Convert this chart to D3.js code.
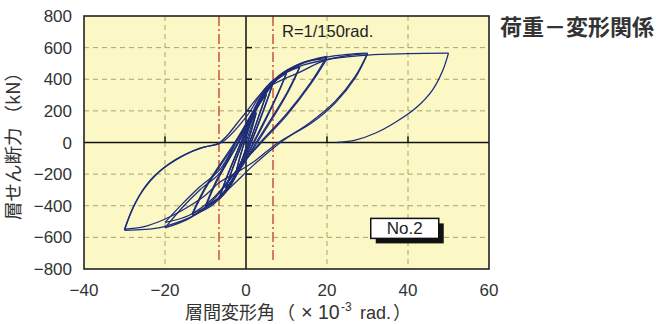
<!DOCTYPE html>
<html>
<head>
<meta charset="utf-8">
<script src="https://cdn.jsdelivr.net/npm/d3@7"></script>
<style>
  body { margin: 0; background: #fff; }
</style>
</head>
<body>
<div id="chart"></div>
<script>
const xTicks = [-40, -20, 0, 20, 40, 60];
const yTicks = [-800, -600, -400, -200, 0, 200, 400, 600, 800];
const gridX = [-20, 20, 40];
const gridY = [-600, -400, -200, 200, 400, 600];
const limitDrift = [-6.67, 6.67];   // R = 1/150 rad.

// hysteresis branches, [drift (x10^-3 rad), shear (kN)], peak to peak
const cyc25 = [
  [[0, 0], [1, 80], [2.5, 185]],
  [[2.5, 185], [1.5, 90], [0.4, 0], [-1, -110], [-2.5, -195]],
  [[-2.5, -195], [-1.5, -95], [-0.4, 0], [1, 110], [2.5, 190]],
  [[2.5, 190], [1.5, 95], [0.4, 0], [-1, -110], [-2.5, -192]],
  [[-2.5, -192], [-1.5, -90], [-0.4, 0], [1.5, 150], [3.5, 260], [5, 300]]
];
const cyc50 = [
  [[5, 300], [3.5, 190], [0.8, 0], [-1.5, -140], [-3.5, -240], [-5, -290]],
  [[-5, -290], [-3.5, -180], [-0.8, 0], [1.5, 150], [3.5, 250], [5, 305]],
  [[5, 305], [3.5, 195], [0.9, 0], [-1.5, -140], [-3.5, -240], [-5, -288]],
  [[-5, -288], [-3.5, -175], [-0.9, 0], [1.5, 160], [4, 290], [6.67, 375]]
];
const cyc67 = [
  [[6.67, 375], [4.8, 240], [1.2, 0], [-2, -190], [-4.5, -300], [-6.67, -360]],
  [[-6.67, -360], [-4.8, -225], [-1.2, 0], [2, 200], [4.5, 320], [6.67, 378]],
  [[6.67, 378], [4.8, 235], [1.3, 0], [-2, -185], [-4.5, -295], [-6.67, -355]],
  [[-6.67, -355], [-4.8, -220], [-1.3, 0], [2, 210], [5, 350], [7.5, 410], [10, 440]]
];
const cyc100 = [
  [[10, 440], [7.5, 290], [1.8, 0], [-2.5, -210], [-6, -340], [-10, -410]],
  [[-10, -410], [-7.5, -260], [-1.8, 0], [2.5, 220], [6, 360], [10, 438]],
  [[10, 438], [7.5, 285], [2, 0], [-2.5, -205], [-6, -335], [-10, -400]],
  [[-10, -400], [-7.5, -250], [-2, 0], [2.5, 225], [6.5, 380], [10, 450], [13.3, 480]]
];
const cyc133 = [
  [[13.3, 480], [10, 310], [2.5, 0], [-3, -230], [-8, -390], [-13.3, -460]],
  [[-13.3, -460], [-10, -290], [-2.5, 0], [3, 230], [8, 410], [13.3, 478]],
  [[13.3, 478], [10, 300], [2.8, 0], [-3, -225], [-8, -380], [-13.3, -450]],
  [[-13.3, -450], [-10, -280], [-2.8, 0], [3, 240], [8, 420], [14, 505], [20, 545]]
];
const cyc200 = [
  [[20, 545], [16, 380], [10, 180], [3.5, 0], [-2, -170], [-8, -360], [-14, -480], [-20, -540]],
  [[-20, -540], [-15.6, -408], [-11.4, -300], [-6.4, -190], [-2.5, 0], [2, 200], [8, 410], [14, 505], [20, 530]],
  [[20, 530], [16, 370], [10, 170], [3.8, 0], [-2, -165], [-8, -350], [-14, -460], [-20, -505]],
  [[-20, -505], [-15.6, -385], [-11.4, -280], [-6.4, -170], [-2.5, 0], [3, 250], [8, 410], [14, 500], [20, 540], [25, 557], [30, 565]]
];
const cyc300 = [
  [[30, 565], [27, 420], [22, 260], [16, 130], [8.5, 0], [2, -140], [-5, -310], [-12, -450], [-20, -530], [-25, -550], [-30, -555]],
  [[-30, -555], [-28.5, -450], [-26.2, -332], [-23.5, -240], [-21, -175], [-17, -105], [-13.8, -62], [-10, -28], [-6, 0], [0, 160], [5, 350], [12, 470], [20, 525], [25, 550], [30, 560]],
  [[30, 560], [27, 410], [22, 250], [16, 120], [8, 0], [2, -120], [-3, -200], [-6.4, -250], [-10.6, -345], [-15.6, -427], [-20.5, -490], [-25.4, -534], [-30, -548]],
  [[-30, -548], [-27.4, -385], [-23.7, -240], [-17.5, -110], [-11.4, -35], [-6.5, 0], [-1, 160], [5, 340], [13.3, 445], [20, 522], [30, 553], [40, 562], [50, 565]]
];
const cyc500 = [
  [[50, 565], [48.5, 450], [46, 330], [42, 220], [37, 130], [32, 60], [27, 15], [22.5, 0]]
];

const branches = [].concat(cyc25, cyc50, cyc67, cyc100, cyc133, cyc200, cyc300, cyc500);

const WIDTH = 670, HEIGHT = 324;
const margin = {left: 84, right: 181, top: 16, bottom: 55};
const innerW = WIDTH - margin.left - margin.right;
const innerH = HEIGHT - margin.top - margin.bottom;

const svg = d3.select("#chart").append("svg")
  .attr("width", WIDTH)
  .attr("height", HEIGHT)
  .style("font-family", "'Liberation Sans', Arial, sans-serif");

const x = d3.scaleLinear().domain([-40, 60]).range([0, innerW]);
const y = d3.scaleLinear().domain([-800, 800]).range([innerH, 0]);

const chart = svg.append("g")
  .attr("transform", `translate(${margin.left},${margin.top})`);

chart.append("rect")
  .attr("width", innerW)
  .attr("height", innerH)
  .attr("fill", "#fbf8c6");

// dashed grid
chart.selectAll("line.gx").data(gridX).enter().append("line")
  .attr("class", "gx")
  .attr("x1", d => x(d)).attr("x2", d => x(d))
  .attr("y1", 0).attr("y2", innerH)
  .attr("stroke", "#a9a46a").attr("stroke-width", 1)
  .attr("stroke-dasharray", "5,4");

chart.selectAll("line.gy").data(gridY).enter().append("line")
  .attr("class", "gy")
  .attr("x1", 0).attr("x2", innerW)
  .attr("y1", d => y(d)).attr("y2", d => y(d))
  .attr("stroke", "#a9a46a").attr("stroke-width", 1)
  .attr("stroke-dasharray", "5,4");

// R=1/150 rad lines
chart.selectAll("line.lim").data(limitDrift).enter().append("line")
  .attr("class", "lim")
  .attr("x1", d => x(d)).attr("x2", d => x(d))
  .attr("y1", y(800)).attr("y2", y(-760))
  .attr("stroke", "#c0392b").attr("stroke-width", 1.3)
  .attr("stroke-dasharray", "10,3,2,3");

// zero axes
chart.append("line")
  .attr("x1", 0).attr("x2", innerW)
  .attr("y1", y(0)).attr("y2", y(0))
  .attr("stroke", "#111").attr("stroke-width", 1.5);
chart.append("line")
  .attr("x1", x(0)).attr("x2", x(0))
  .attr("y1", 0).attr("y2", innerH)
  .attr("stroke", "#111").attr("stroke-width", 1.5);

// inner ticks on the zero axes
chart.selectAll("line.ty").data(yTicks.filter(d => d !== 0 && Math.abs(d) < 800)).enter().append("line")
  .attr("x1", x(0)).attr("x2", x(0) + 6)
  .attr("y1", d => y(d)).attr("y2", d => y(d))
  .attr("stroke", "#111").attr("stroke-width", 1.5);
chart.selectAll("line.tx").data(xTicks.filter(d => d !== 0 && d > -40 && d < 60)).enter().append("line")
  .attr("x1", d => x(d)).attr("x2", d => x(d))
  .attr("y1", y(0)).attr("y2", y(0) - 6)
  .attr("stroke", "#111").attr("stroke-width", 1.5);

// hysteresis curve
const line = d3.line()
  .x(d => x(d[0]))
  .y(d => y(d[1]))
  .curve(d3.curveCatmullRom.alpha(0.5));

chart.selectAll("path.loop").data(branches).enter().append("path")
  .attr("class", "loop")
  .attr("d", line)
  .attr("fill", "none")
  .attr("stroke", "#1e2d78")
  .attr("stroke-width", 1.3)
  .attr("stroke-linejoin", "round");

// frame
chart.append("rect")
  .attr("width", innerW)
  .attr("height", innerH)
  .attr("fill", "none")
  .attr("stroke", "#222")
  .attr("stroke-width", 1.6);

// tick labels
const fmt = d3.format("d");
svg.selectAll("text.yl").data(yTicks).enter().append("text")
  .attr("x", margin.left - 12)
  .attr("y", d => margin.top + y(d))
  .attr("dy", "0.36em")
  .attr("text-anchor", "end")
  .attr("font-size", 17)
  .attr("fill", "#333")
  .text(d => fmt(d));

svg.selectAll("text.xl").data(xTicks).enter().append("text")
  .attr("x", d => margin.left + x(d))
  .attr("y", 295.5)
  .attr("text-anchor", "middle")
  .attr("font-size", 17)
  .attr("fill", "#333")
  .text(d => fmt(d));

// annotation
chart.append("text")
  .attr("x", x(limitDrift[1]) + 9)
  .attr("y", 21)
  .attr("font-size", 16.5)
  .attr("fill", "#222")
  .text("R=1/150rad.");

// No.2 label box
const box = chart.append("g").attr("transform", `translate(${x(30.8)},${y(-480)})`);
box.append("rect")
  .attr("x", 5).attr("y", 5)
  .attr("width", 68).attr("height", 20)
  .attr("fill", "#111");
box.append("rect")
  .attr("width", 68).attr("height", 20)
  .attr("fill", "#fff")
  .attr("stroke", "#111").attr("stroke-width", 1.5);
box.append("text")
  .attr("x", 34).attr("y", 16)
  .attr("text-anchor", "middle")
  .attr("font-size", 17)
  .attr("fill", "#222")
  .text("No.2");

// axis titles
const cjk = "'Noto Sans CJK JP', sans-serif";
const latin = "'Liberation Sans', Arial, sans-serif";
svg.append("text")
  .attr("transform", `translate(20,${margin.top + innerH / 2 - 1}) rotate(-90)`)
  .attr("text-anchor", "middle")
  .attr("font-family", cjk)
  .attr("font-size", 18.5)
  .attr("fill", "#333")
  .text("層せん断力 （kN）");

const xt = svg.append("text")
  .attr("y", 319)
  .attr("font-family", cjk)
  .attr("font-size", 18)
  .attr("fill", "#333");
xt.append("tspan").attr("x", 185).text("層間変形角");
xt.append("tspan").attr("x", 277).text("（");
xt.append("tspan").attr("x", 301).attr("font-family", latin).attr("font-size", 20).text("×");
xt.append("tspan").attr("x", 318).attr("font-family", latin).attr("font-size", 19.5).text("10");
xt.append("tspan").attr("x", 341).attr("dy", -8).attr("font-family", latin).attr("font-size", 12).text("-3");
xt.append("tspan").attr("x", 360).attr("dy", 8).attr("font-family", latin).attr("font-size", 18).text("rad.");
xt.append("tspan").attr("x", 393).text("）");

// title
svg.append("text")
  .attr("x", 500)
  .attr("y", 35)
  .attr("font-family", cjk)
  .attr("font-size", 22)
  .attr("font-weight", "bold")
  .attr("fill", "#333")
  .text("荷重－変形関係");
</script>
</body>
</html>
